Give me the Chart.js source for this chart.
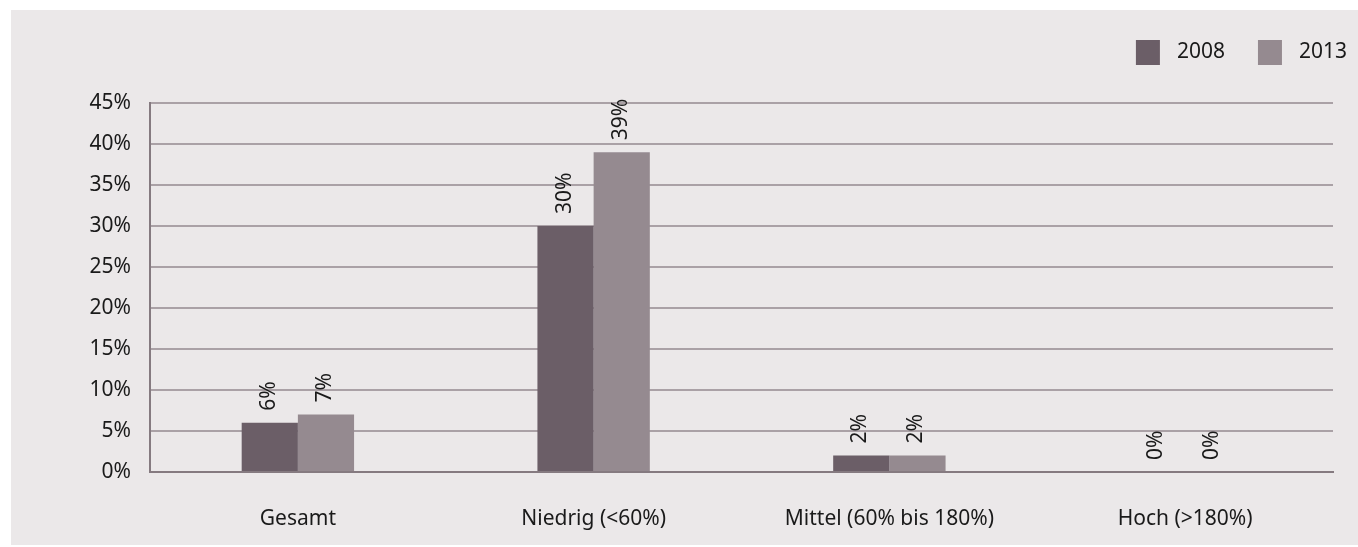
<!DOCTYPE html>
<html>
<head>
<meta charset="utf-8">
<script src="https://cdn.jsdelivr.net/npm/chart.js@4"></script>
<style>
  html, body { margin: 0; padding: 0; background: #fff; }
  #wrap { width: 1358px; height: 547px; }
</style>
</head>
<body>
<div id="wrap"><canvas id="chart" width="1358" height="547"></canvas></div>
<script>
const categories = ["Gesamt", "Niedrig (<60%)", "Mittel (60% bis 180%)", "Hoch (>180%)"];
const years = ["2008", "2013"];
const values2008 = [6, 30, 2, 0];
const values2013 = [7, 39, 2, 0];
const colors = ["#6b5e67", "#958a90"];

const FONT = "'Noto Sans', 'Open Sans', sans-serif";
Chart.defaults.font.family = FONT;
Chart.defaults.font.size = 21;
Chart.defaults.color = "#1a1a1a";

// grey panel behind the chart
const panel = {
  id: "panel",
  beforeDraw(chart) {
    const c = chart.ctx;
    c.save();
    c.fillStyle = "#ebe8e9";
    c.fillRect(11, 10, chart.width - 11, chart.height - 12);
    c.restore();
  }
};

// legend in the top right corner, laid out right to left
const cornerLegend = {
  id: "cornerLegend",
  afterDraw(chart) {
    const c = chart.ctx;
    c.save();
    c.font = "21px " + FONT;
    c.textBaseline = "middle";
    c.textAlign = "left";
    let x = 1347;
    const cy = 52;
    const items = chart.data.datasets.slice().reverse();
    items.forEach((ds, k) => {
      const w = c.measureText(ds.label).width;
      x -= w;
      c.fillStyle = "#1a1a1a";
      c.fillText(ds.label, x, cy);
      x -= 17 + 24;
      c.fillStyle = ds.backgroundColor;
      c.fillRect(x, cy - 12, 24, 25);
      x -= 33;
    });
    c.restore();
  }
};

// vertical value labels above the bars
const barLabels = {
  id: "barLabels",
  afterDatasetsDraw(chart) {
    const c = chart.ctx;
    c.save();
    c.font = "21px " + FONT;
    c.fillStyle = "#1a1a1a";
    c.textAlign = "left";
    c.textBaseline = "middle";
    chart.data.datasets.forEach((ds, i) => {
      chart.getDatasetMeta(i).data.forEach((bar, j) => {
        c.save();
        c.translate(bar.x - 1, bar.y - 12);
        c.rotate(-Math.PI / 2);
        c.fillText(ds.data[j] + "%", 0, 0);
        c.restore();
      });
    });
    c.restore();
  }
};

new Chart(document.getElementById("chart").getContext("2d"), {
  type: "bar",
  data: {
    labels: categories,
    datasets: [
      { label: years[0], data: values2008, backgroundColor: colors[0] },
      { label: years[1], data: values2013, backgroundColor: colors[1] }
    ]
  },
  options: {
    responsive: false,
    animation: false,
    categoryPercentage: 0.38,
    barPercentage: 1.0,
    layout: { padding: { left: 0, right: 25, top: 103, bottom: 0 } },
    plugins: {
      tooltip: { enabled: false },
      legend: { display: false }
    },
    scales: {
      x: {
        grid: { display: false, drawTicks: false },
        border: { color: "#857a80", width: 2 },
        ticks: { padding: 34, color: "#1a1a1a" },
        afterFit(scale) { scale.height = 75; }
      },
      y: {
        min: 0,
        max: 45,
        ticks: {
          stepSize: 5,
          padding: 19,
          color: "#1a1a1a",
          callback: v => v + "%"
        },
        grid: { color: "#aaa1a6", lineWidth: 2, drawTicks: false },
        border: { color: "#857a80", width: 2 },
        afterFit(scale) { scale.width = 150; }
      }
    }
  },
  plugins: [panel, barLabels, cornerLegend]
});
</script>
</body>
</html>
